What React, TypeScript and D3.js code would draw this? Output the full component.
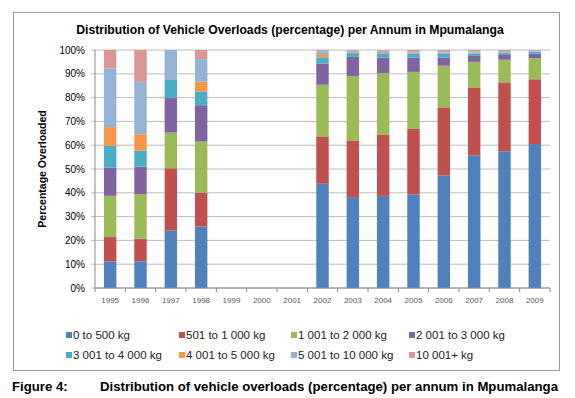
import * as d3 from 'd3'

const years = ['1995', '1996', '1997', '1998', '1999', '2000', '2001', '2002', '2003', '2004', '2005', '2006', '2007', '2008', '2009']

const seriesNames = [
  '0 to 500 kg',
  '501 to 1 000 kg',
  '1 001 to 2 000 kg',
  '2 001 to 3 000 kg',
  '3 001 to 4 000 kg',
  '4 001 to 5 000 kg',
  '5 001 to 10 000 kg',
  '10 001+ kg',
]

// percentage of overloads per mass band, one value per year (1999-2001 have no data)
const kg0to500 = [11.2, 11.2, 24.1, 25.8, 0, 0, 0, 43.8, 38.2, 38.7, 39.4, 47.3, 55.7, 57.4, 60.5]
const kg501to1000 = [10.2, 9.5, 26.2, 14.3, 0, 0, 0, 19.9, 23.8, 25.6, 27.4, 28.6, 28.6, 29.0, 27.2]
const kg1001to2000 = [17.3, 18.8, 15.0, 21.4, 0, 0, 0, 21.7, 27.1, 26.0, 24.0, 17.5, 10.7, 9.5, 8.9]
const kg2001to3000 = [11.9, 11.5, 14.5, 15.3, 0, 0, 0, 8.9, 8.0, 6.5, 6.0, 3.4, 2.5, 2.0, 1.9]
const kg3001to4000 = [9.2, 6.7, 7.6, 5.8, 0, 0, 0, 2.4, 1.6, 1.5, 1.8, 1.8, 1.1, 0.8, 0.8]
const kg4001to5000 = [7.8, 6.9, 0, 4.1, 0, 0, 0, 1.2, 0.3, 0.4, 0.4, 0.3, 0.3, 0.3, 0.1]
const kg5001to10000 = [24.7, 22.0, 12.6, 9.5, 0, 0, 0, 1.6, 0.7, 1.0, 0.6, 0.7, 0.6, 0.6, 0.4]
const kg10001plus = [7.7, 13.4, 0, 3.8, 0, 0, 0, 0.5, 0.3, 0.3, 0.4, 0.4, 0.5, 0.4, 0.2]

const seriesValues = [kg0to500, kg501to1000, kg1001to2000, kg2001to3000, kg3001to4000, kg4001to5000, kg5001to10000, kg10001plus]

const yTicks = [0, 10, 20, 30, 40, 50, 60, 70, 80, 90, 100]

const colors = ['#4F81BD', '#C0504D', '#9BBB59', '#8064A2', '#4BACC6', '#F79646', '#95B3D7', '#D99694']

const W = 575
const H = 398
const plot = { left: 95, right: 550, top: 50, bottom: 288 }

// legend layout: 4 columns x 2 rows
const legendCols = [69, 182, 294, 412]
const legendRows = [335, 355]

const font = '"Liberation Sans", Arial, sans-serif'

export default function App() {
  const x = d3
    .scaleBand<string>()
    .domain(years)
    .range([plot.left, plot.right])
    .paddingInner(0.59)
    .paddingOuter(0.295)

  const y = d3.scaleLinear().domain([0, 100]).range([plot.bottom, plot.top])

  const rows = years.map((yr, i) => {
    const row: Record<string, number | string> = { year: yr }
    seriesNames.forEach((s, k) => {
      row[s] = seriesValues[k][i]
    })
    return row
  })

  const stacked = d3.stack<Record<string, number | string>>().keys(seriesNames)(rows as any)

  const step = x.step()
  const boundaries = d3.range(years.length + 1).map((i) => (x(years[0]) as number) - (step - x.bandwidth()) / 2 + i * step)

  return (
    <svg width={W} height={H} style={{ position: 'absolute', left: 0, top: 0, fontFamily: font }}>
      <rect x={0} y={0} width={W} height={H} fill="#fff" />
      <rect x={13.5} y={12.5} width={546} height={358} fill="#fff" stroke="#9a9a9a" strokeWidth={1} />

      <text x={290} y={34} textAnchor="middle" fontSize={12.2} fontWeight="bold" fill="#000">
        Distribution of Vehicle Overloads (percentage) per Annum in Mpumalanga
      </text>

      {/* gridlines */}
      {yTicks.map((t) => (
        <line key={t} x1={plot.left - 4} x2={plot.right} y1={y(t)} y2={y(t)} stroke="#bcbcbc" strokeWidth={1} />
      ))}
      {yTicks.map((t) => (
        <text key={'l' + t} x={85} y={y(t) + 3.5} textAnchor="end" fontSize={10} fill="#000">
          {t}%
        </text>
      ))}
      <line x1={plot.left} x2={plot.left} y1={plot.top} y2={plot.bottom} stroke="#8a8a8a" />

      {/* bars */}
      {stacked.map((layer, k) =>
        layer.map((d, i) =>
          d[1] - d[0] > 0 ? (
            <rect
              key={k + '-' + i}
              x={x(years[i])}
              width={x.bandwidth()}
              y={y(d[1])}
              height={y(d[0]) - y(d[1])}
              fill={colors[k]}
            />
          ) : null,
        ),
      )}

      {/* x axis */}
      <line x1={plot.left} x2={plot.right} y1={plot.bottom} y2={plot.bottom} stroke="#8a8a8a" />
      {boundaries.map((b, i) => (
        <line key={'t' + i} x1={b} x2={b} y1={plot.bottom} y2={plot.bottom + 4} stroke="#8a8a8a" />
      ))}
      {years.map((yr) => (
        <text key={yr} x={(x(yr) as number) + x.bandwidth() / 2} y={303} textAnchor="middle" fontSize={8} fill="#595959">
          {yr}
        </text>
      ))}

      <text
        transform={`translate(46,169) rotate(-90)`}
        textAnchor="middle"
        fontSize={10.5}
        fontWeight="bold"
        fill="#000"
      >
        Percentage Overloaded
      </text>

      {/* legend */}
      {seriesNames.map((s, k) => (
        <g key={s} transform={`translate(${legendCols[k % 4]},${legendRows[Math.floor(k / 4)]})`}>
          <rect x={-3} y={-3} width={6} height={6} fill={colors[k]} />
          <text x={4} y={4} fontSize={11.5} fill="#222">
            {s}
          </text>
        </g>
      ))}

      <text x={12} y={391} fontSize={13.2} fontWeight="bold" fill="#000">
        Figure 4:
      </text>
      <text x={100} y={391} fontSize={13.2} fontWeight="bold" fill="#000">
        Distribution of vehicle overloads (percentage) per annum in Mpumalanga
      </text>
    </svg>
  )
}
